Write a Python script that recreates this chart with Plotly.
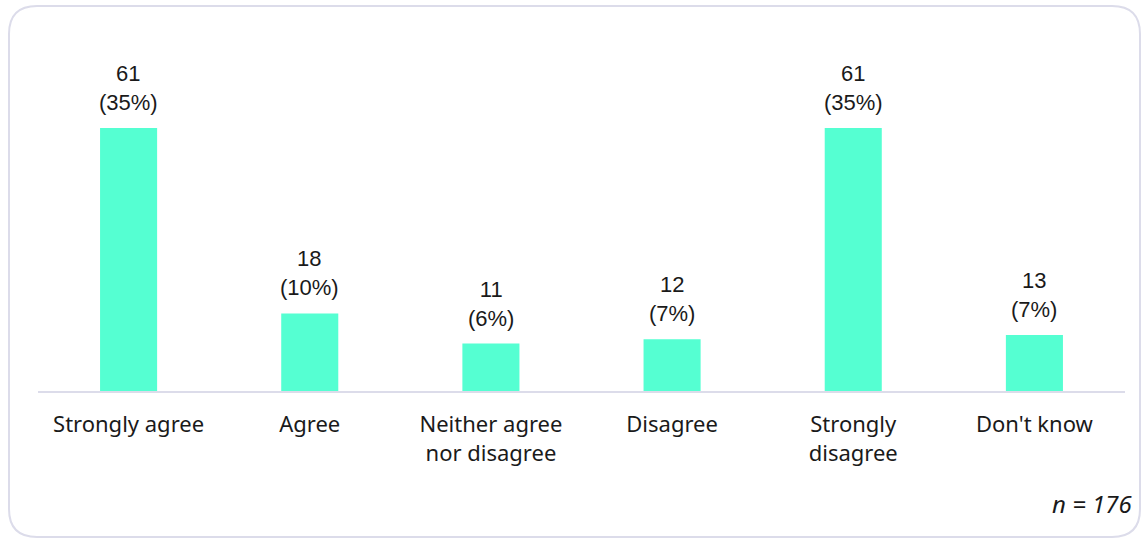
import plotly.graph_objects as go

categories = ["Strongly agree", "Agree", "Neither agree<br>nor disagree", "Disagree",
              "Strongly<br>disagree", "Don't know"]
counts = [61, 18, 11, 12, 61, 13]
percents = ["35%", "10%", "6%", "7%", "35%", "7%"]
sample_size = 176

BAR_COLOR = "#55FFD2"
LINE_COLOR = "#DCDCEA"
TEXT_COLOR = "#1a1a1a"

W, H = 1141, 540
ML, MR, MT, MB = 38, 16, 30, 149
PW, PH = W - ML - MR, H - MT - MB


def px(x):
    return (x - ML) / PW


def py(y):
    return (H - MB - y) / PH


def rounded_box(x0, y0, x1, y1, r):
    pts = [
        f"M {px(x0 + r)},{py(y0)}",
        f"L {px(x1 - r)},{py(y0)}",
        f"Q {px(x1)},{py(y0)} {px(x1)},{py(y0 + r)}",
        f"L {px(x1)},{py(y1 - r)}",
        f"Q {px(x1)},{py(y1)} {px(x1 - r)},{py(y1)}",
        f"L {px(x0 + r)},{py(y1)}",
        f"Q {px(x0)},{py(y1)} {px(x0)},{py(y1 - r)}",
        f"L {px(x0)},{py(y0 + r)}",
        f"Q {px(x0)},{py(y0)} {px(x0 + r)},{py(y0)}",
        "Z",
    ]
    return " ".join(pts)


fig = go.Figure()
fig.add_trace(go.Bar(
    x=categories,
    y=counts,
    marker=dict(color=BAR_COLOR, line=dict(width=0)),
    hoverinfo="skip",
))

for cat, c, p in zip(categories, counts, percents):
    fig.add_annotation(
        x=cat, y=c, xref="x", yref="y",
        text=f"{c}<br>({p})",
        showarrow=False, yanchor="bottom", yshift=11,
        font=dict(family="Liberation Sans, Arial, sans-serif", size=22, color=TEXT_COLOR),
    )

fig.add_annotation(
    x=1, y=py(504), xref="paper", yref="paper",
    text=f"<i>n = {sample_size}</i>",
    showarrow=False, xanchor="right", yanchor="middle", xshift=10,
    font=dict(family="Noto Sans, Open Sans, sans-serif", size=24, color=TEXT_COLOR),
)

fig.add_shape(
    type="path", xref="paper", yref="paper",
    path=rounded_box(9, 6, 1140, 537, 28),
    line=dict(color=LINE_COLOR, width=2),
    layer="below",
)

fig.update_layout(
    width=W, height=H,
    margin=dict(l=ML, r=MR, t=MT, b=MB),
    plot_bgcolor="white", paper_bgcolor="white",
    bargap=0.685,
    showlegend=False,
    font=dict(family="Noto Sans, Open Sans, sans-serif", size=22, color=TEXT_COLOR),
    xaxis=dict(
        showgrid=False, zeroline=False,
        showline=True, linecolor=LINE_COLOR, linewidth=2,
        ticks="outside", ticklen=13, tickcolor="rgba(0,0,0,0)",
        tickfont=dict(family="Noto Sans, Open Sans, sans-serif", size=22, color=TEXT_COLOR),
        fixedrange=True,
    ),
    yaxis=dict(
        range=[0, 61 * PH / 263], visible=False, fixedrange=True,
    ),
)

fig.write_html("out.html", config={"displayModeBar": False})
